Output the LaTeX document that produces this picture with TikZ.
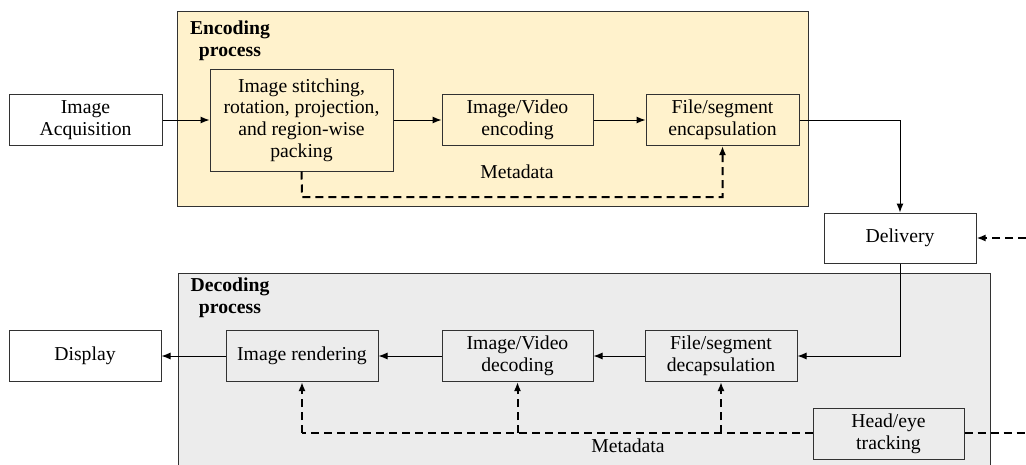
\documentclass[tikz,border=0pt]{standalone}
\usepackage{fontspec}
\setmainfont{Liberation Serif}
\usetikzlibrary{arrows.meta}
\definecolor{encfill}{RGB}{255,242,204}
\definecolor{decfill}{RGB}{236,236,236}
\definecolor{edge}{RGB}{50,50,50}
\begin{document}
\begin{tikzpicture}[x=1pt,y=-1pt,
  every node/.style={font=\fontsize{19.7}{21.7}\selectfont, align=center, inner sep=0pt},
  blk/.style={draw=edge, line width=1pt, fill=white, minimum height=51pt},
  region/.style={draw=edge, line width=1pt},
  title/.style={font=\fontsize{19.7}{21.7}\selectfont\bfseries},
  flow/.style={line width=1pt, -{Latex[length=9pt,width=7pt]}},
  meta/.style={line width=2pt, dash pattern=on 8pt off 5pt, -{Latex[length=9pt,width=7pt]}},
  metaline/.style={line width=2pt, dash pattern=on 8pt off 5pt}]
\useasboundingbox (0,0) rectangle (1026,464);

% process regions
\filldraw[region, fill=encfill] (177,11) rectangle (808,206);
\filldraw[region, fill=decfill] (178,273) rectangle (990,470);
\node[title] (enc) at (230,41) {Encoding\\process};
\node[title] (dec) at (230,298) {Decoding\\process};

% encoding chain
\node[blk, minimum width=153pt] (acq) at (85.5,120) {Image\\Acquisition};
\node[blk, minimum width=183pt, minimum height=102pt, fill=encfill] (stitch) at (301.5,120) {Image stitching,\\rotation, projection,\\and region-wise\\packing};
\node[blk, minimum width=151pt, fill=encfill] (venc) at (517.5,120) {Image/Video\\encoding};
\node[blk, minimum width=153pt, fill=encfill] (encap) at (722.5,120) {File/segment\\encapsulation};
\node (meta1) at (517,172) {Metadata};

% delivery
\node[blk, minimum width=152pt, minimum height=50pt] (deliv) at (900,238) {Delivery};
\coordinate (netin) at (1026,238);

% decoding chain
\node[blk, minimum width=152pt] (disp) at (85,356) {Display};
\node[blk, minimum width=152pt, fill=decfill] (render) at (302,356) {Image rendering};
\node[blk, minimum width=151pt, fill=decfill] (vdec) at (517.5,356) {Image/Video\\decoding};
\node[blk, minimum width=152pt, fill=decfill] (decap) at (721,356) {File/segment\\decapsulation};
\node[blk, minimum width=151pt, fill=decfill] (track) at (888.5,433.5) {Head/eye\\tracking};
\node (meta2) at (628,446) {Metadata};
\coordinate (trackout) at (1026,433);

% solid data flow
\draw[flow] (acq) -- (stitch);
\draw[flow] (stitch.east |- venc.west) -- (venc);
\draw[flow] (venc) -- (encap);
\draw[flow] (encap.east) -| (deliv.north);
\draw[flow] (deliv.south) |- (decap.east);
\draw[flow] (decap) -- (vdec);
\draw[flow] (vdec) -- (render);
\draw[flow] (render) -- (disp);

% metadata paths
\draw[meta] (stitch.south) -- (302,197) -| (encap.south);
\draw[meta] (netin) -- (deliv.east);
\draw[metaline] (track.east |- trackout) -- (trackout);
\draw[metaline] (track.west |- 0,433) -- (302,433);
\draw[meta] (302,433) -- (render.south);
\draw[meta] (vdec.south |- 0,433) -- (vdec.south);
\draw[meta] (decap.south |- 0,433) -- (decap.south);
\end{tikzpicture}
\end{document}
